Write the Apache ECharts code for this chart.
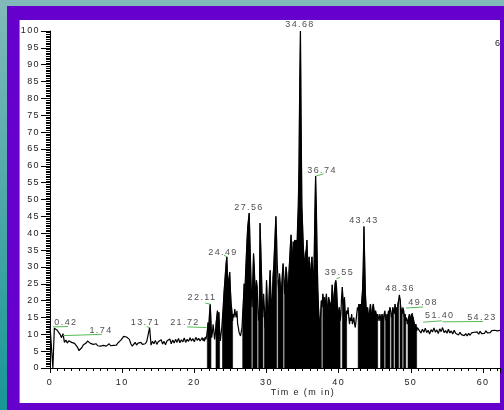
<!DOCTYPE html>
<html>
<head>
<meta charset="utf-8">
<script src="https://cdn.jsdelivr.net/npm/echarts@6/dist/echarts.min.js"></script>
<style>html,body{margin:0;padding:0;background:#fff}#c{width:504px;height:410px}</style>
</head>
<body>
<div id="c"></div>
<script>
// ---- data ----
const earlyStart = 0, earlyStep = 0.2;
const earlyIntensity = [
 12.5,12.3,0,11.8,12.0,11.2,10.6,10.0,9.0,10.2,
 7.6,8.3,7.4,8.1,8.5,7.6,7.9,7.3,6.9,6.2,
 5.2,5.0,6.0,6.8,7.0,7.4,8.0,7.8,7.3,7.5,
 7.0,6.8,7.2,6.6,7.0,6.5,7.0,6.7,7.2,6.5,
 6.9,7.2,6.6,7.0,6.7,7.0,6.8,7.4,7.8,8.2,
 8.8,9.4,9.8,9.2,9.6,8.5,7.2,6.5,7.0,7.6,
 6.8,7.4,7.1,7.6,7.0,7.5,7.2,7.8,7.4,12.0,
 6.8,7.9,7.2,8.2,7.0,7.8,7.3,8.4,7.1,7.9,
 6.9,8.0,7.5,8.6,7.2,8.3,7.4,8.5,7.6,8.8,
 7.5,8.4,7.7,8.9,7.6,8.5,7.9,9.0,8.0,8.7,
 7.8,9.1,8.2,8.8,8.0
];
const mainStart = 21.0, mainStep = 0.1;
const mainIntensity = [
 8.2,9.0,8.1,8.8,7.9,9.2,8.5,9.6,11.0,13.5,
 12.0,16.0,19.0,14.0,9.0,10.5,13.0,11.0,8.5,10.0,
 13.0,15.0,17.0,14.0,16.5,11.0,8.0,10.0,12.0,15.0,
 18.0,22.0,25.0,28.0,31.0,33.0,27.0,24.0,26.5,28.5,
 23.0,19.0,17.0,14.0,16.0,15.0,17.5,16.0,15.0,17.0,
 13.0,12.0,10.5,11.0,9.5,10.0,12.0,16.0,20.0,25.0,
 22.0,28.0,33.0,38.0,42.0,44.0,46.0,38.0,30.0,22.0,
 18.0,26.0,34.0,30.0,24.0,20.0,26.0,24.0,18.0,14.0,
 16.0,43.0,36.0,28.0,20.0,15.0,22.0,18.0,12.0,16.0,
 26.0,20.0,14.0,18.0,24.0,29.0,22.0,16.0,20.0,27.0,
 30.0,35.0,40.0,45.0,38.0,30.0,26.0,22.0,28.0,25.0,
 20.0,24.0,28.0,31.0,27.0,22.0,26.0,30.0,28.0,24.0,
 22.0,28.0,32.0,36.0,39.5,34.0,30.0,37.5,32.0,38.0,
 35.0,38.0,33.0,42.0,48.0,60.0,84.0,100.0,71.0,48.0,
 42.0,36.0,32.0,30.0,34.0,35.0,38.0,31.0,28.0,33.0,
 29.0,26.0,31.0,33.0,28.0,24.0,32.0,46.0,57.0,48.0,
 35.0,24.0,18.0,14.0,12.0,16.0,20.0,18.0,22.0,19.0,
 21.0,17.0,20.0,22.0,18.0,16.0,21.0,20.0,17.0,19.0,
 20.0,24.7,21.0,18.0,22.0,25.0,26.0,24.0,19.0,17.0,
 15.0,18.0,14.0,16.0,21.0,24.0,20.0,18.0,21.0,16.0,
 14.0,17.0,16.0,18.0,15.0,13.0,15.0,14.0,16.0,13.0,
 14.0,15.0,13.0,12.0,14.0,16.0,18.0,17.0,19.0,17.0,
 19.0,17.0,20.0,23.0,30.0,42.0,32.0,22.0,18.0,17.0,
 18.0,16.0,15.0,17.0,19.0,16.0,15.0,18.0,19.0,17.0,
 15.0,17.0,16.0,14.0,16.0,15.0,14.0,16.0,15.0,14.0,
 16.0,15.0,14.0,16.0,17.0,15.0,14.0,16.0,15.0,17.0,
 16.0,18.0,17.0,15.0,16.0,18.0,17.0,16.0,19.0,17.0,
 18.0,16.0,19.0,20.0,21.7,20.5,18.0,17.0,16.0,18.0,
 17.0,15.0,16.0,14.0,15.0,13.0,14.0,15.0,16.0,14.0,
 15.0,16.0,16.3,15.0,14.0,13.0,12.0,13.0,11.0,12.0,
 11.5
];
const lateStart = 51.2, lateStep = 0.2;
const lateIntensity = [
 11.0,10.4,11.5,10.6,
 11.8,10.5,11.2,10.1,11.4,10.7,11.9,10.6,11.3,10.2,
 11.6,10.8,12.0,10.5,11.1,10.3,11.5,10.4,11.0,10.1,
 11.2,10.3,10.8,9.8,10.6,9.9,10.4,9.6,10.2,9.5,
 10.3,9.7,10.4,9.9,10.6,10.1,10.7,10.0,10.9,10.2,
 10.6,10.3,11.0,10.4,10.8,10.5,11.1,10.6,11.2,10.7,
 11.0,10.8,11.2
];
// time windows where the detector trace oscillates down to zero (solid black)
const oscillationRanges = [[21.8,22.3],[23.0,23.5],[23.9,25.3],[26.7,27.9],[28.1,28.7],[28.9,29.5],[29.7,31.4],[31.6,32.3],[32.5,37.6],[37.8,40.2],[40.5,41.1],[42.7,45.4],[45.8,46.3],[46.5,47.1],[47.3,47.6],[47.8,48.3],[48.5,48.8],[49.0,49.3],[49.6,50.8]];
// peak retention-time labels: text, time, level
const peakLabels = ['0.42','1.74','13.71','21.72','22.11','24.49','27.56','34.68','36.74','39.55','43.43','48.36','49.08','51.40','54.23'];
const labelTimes = [2.2,7.07,13.23,18.7,21.06,23.97,27.57,34.64,37.69,40.1,43.5,48.5,51.7,54.0,59.85];
const labelLevels = [13.6,11.0,13.6,13.6,20.8,34.4,47.5,101.9,58.5,28.2,43.9,23.7,19.3,15.7,15.1];
// integration baselines: [t1, v1, t2, v2]
const baselineSegs = [[0.4,12.2,2.5,12.3],[1.8,9.6,7.2,10.0],[13.4,12.3,13.75,12.0],[19.0,12.2,21.7,12.0],[21.5,19.3,22.25,18.9],[24.1,33.5,24.5,33.0],[36.9,57.0,37.9,57.6],[39.7,26.5,40.2,26.9],[49.3,17.8,51.7,18.1],[51.7,13.6,54.3,14.0],[54.4,13.7,60.0,13.8]];
const xTicks = {min:0, max:62.35, interval:10};
const yTicks = {min:0, max:100, interval:5};

// ---- letter spacing like the original instrument font ----
(function(){
  const P = CanvasRenderingContext2D.prototype, f = P.fillText;
  P.fillText = function(){ try{ this.letterSpacing = '1.4px'; }catch(e){} return f.apply(this, arguments); };
})();

const r1 = v => Math.round(v*100)/100;
const mainPts = mainIntensity.map((v,i)=>[r1(mainStart+i*mainStep), v]);
const trace = [];
earlyIntensity.forEach((v,i)=>trace.push([r1(earlyStart+i*earlyStep), v]));
mainPts.forEach(p=>trace.push(p));
lateIntensity.forEach((v,i)=>trace.push([r1(lateStart+i*lateStep), v]));
const segData = [];
baselineSegs.forEach(s=>{ segData.push([s[0],s[1]]); segData.push([s[2],s[3]]); segData.push([s[2],null]); });
const labelData = peakLabels.map((n,i)=>({name:n, value:[labelTimes[i], labelLevels[i]]}));
const rangeData = oscillationRanges.map((r,i)=>[r[0], r[1], i]);

function renderFill(params, api){
  const a = api.value(0), b = api.value(1);
  const pts = [api.coord([a, 0])];
  mainPts.forEach(p=>{ if (p[0] >= a-1e-6 && p[0] <= b+1e-6) pts.push(api.coord(p)); });
  pts.push(api.coord([b, 0]));
  return {type:'polygon', shape:{points:pts}, style:{fill:'#000', stroke:'#000', lineWidth:0.6}};
}

const FONT = '"Liberation Sans", Arial, sans-serif';
const TXT = '#222';
const chart = echarts.init(document.getElementById('c'), null, {renderer:'canvas'});
chart.setOption({
  animation:false,
  backgroundColor:{type:'linear', x:0, y:0, x2:0, y2:1, colorStops:[{offset:0,color:'#82baba'},{offset:1,color:'#189696'}]},
  graphic:[
    {type:'rect', z:-20, silent:true, shape:{x:7,y:6,width:497,height:404}, style:{fill:'#6600cc'}},
    {type:'rect', z:-19, silent:true, shape:{x:19,y:20,width:1,height:383}, style:{fill:'#9a6af0'}},
    {type:'rect', z:-18, silent:true, shape:{x:20,y:20,width:480,height:383}, style:{fill:'#ffffff'}},
    {type:'text', z:5, silent:true, x:303, y:393, style:{text:'Tim e (m in)', align:'center', verticalAlign:'middle', font:'9px '+FONT, fill:TXT}},
    {type:'text', z:5, silent:true, x:495, y:44, style:{text:'6', align:'left', verticalAlign:'middle', font:'9px '+FONT, fill:TXT}}
  ],
  grid:{left:50, right:4, top:31, bottom:42, containLabel:false},
  xAxis:{type:'value', min:xTicks.min, max:xTicks.max, interval:xTicks.interval,
    axisLine:{show:true, onZero:false, lineStyle:{color:'#000', width:1}},
    axisTick:{show:true, length:5, lineStyle:{color:'#000'}},
    minorTick:{show:true, splitNumber:10, length:3, lineStyle:{color:'#000'}},
    splitLine:{show:false}, minorSplitLine:{show:false},
    axisLabel:{margin:10, color:TXT, fontSize:9, fontFamily:FONT, showMaxLabel:false}},
  yAxis:{type:'value', min:yTicks.min, max:yTicks.max, interval:yTicks.interval,
    axisLine:{show:true, lineStyle:{color:'#000', width:1}},
    axisTick:{show:true, length:9, lineStyle:{color:'#000'}},
    minorTick:{show:true, splitNumber:10, length:4, lineStyle:{color:'#000'}},
    splitLine:{show:false}, minorSplitLine:{show:false},
    axisLabel:{margin:10, color:TXT, fontSize:9, fontFamily:FONT}},
  series:[
    {type:'custom', name:'fill', data:rangeData, renderItem:renderFill, encode:{x:[0,1]}, z:2, silent:true, clip:true},
    {type:'line', name:'trace', data:trace, showSymbol:false, symbol:'none', z:3, sampling:null,
      lineStyle:{color:'#000', width:1.2}, silent:true},
    {type:'line', name:'baselines', data:segData, showSymbol:false, symbol:'none', connectNulls:false, z:4,
      lineStyle:{color:'#55bb55', width:1}, silent:true},
    {type:'scatter', name:'labels', data:labelData, symbolSize:0, clip:false, z:5, silent:true,
      label:{show:true, position:'inside', formatter:p=>p.name, color:TXT, fontSize:9, fontFamily:FONT}}
  ]
});
</script>
</body>
</html>
